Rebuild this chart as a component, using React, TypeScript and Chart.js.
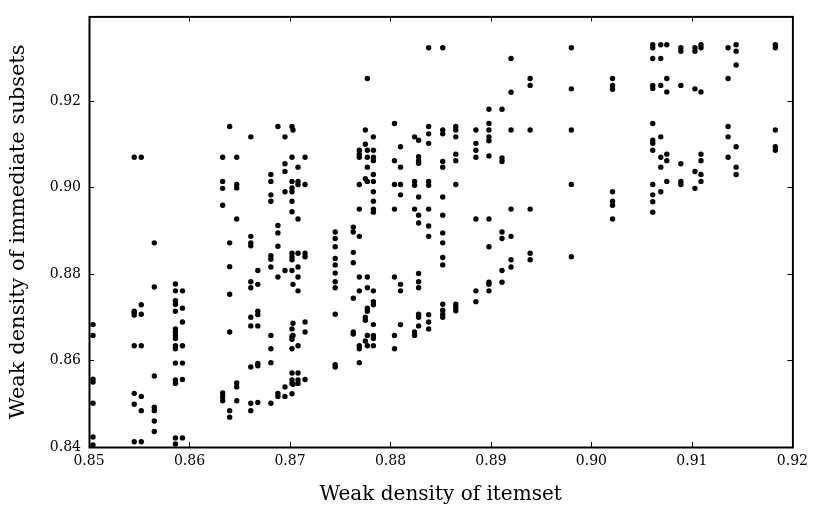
import React, { useEffect, useRef } from 'react';
import { Chart, registerables } from 'chart.js';

Chart.register(...registerables);

const X_TICKS = [0.85, 0.86, 0.87, 0.88, 0.89, 0.9, 0.91, 0.92];
const Y_TICKS = [0.84, 0.86, 0.88, 0.9, 0.92];

// x value of each vertical column of itemsets
const COLUMN_X = [
  0.8504, 0.8545, 0.8552, 0.8565, 0.8586, 0.8593, 0.8633, 0.864, 0.8647, 0.8661,
  0.8668, 0.8681, 0.8688, 0.8695, 0.8702, 0.8703, 0.8708, 0.8715, 0.8745, 0.8763,
  0.8769, 0.8775, 0.8777, 0.8783, 0.8804, 0.881, 0.8824, 0.8828, 0.8838, 0.8852,
  0.8865, 0.8885, 0.8898, 0.8911, 0.892, 0.8939, 0.898, 0.9021, 0.9061, 0.9069,
  0.9075, 0.9089, 0.9103, 0.9109, 0.9136, 0.9144, 0.9183,
];

// y values (weak density of immediate subsets) for each column
const COLUMN_Y: number[][] = [
  [0.8683, 0.8658, 0.8557, 0.855, 0.8501, 0.8423, 0.8405],
  [0.907, 0.8714, 0.8711, 0.8705, 0.8634, 0.8524, 0.8499, 0.8412],
  [0.907, 0.8729, 0.8707, 0.8634, 0.8517, 0.8484, 0.8412],
  [0.8872, 0.877, 0.8564, 0.8492, 0.8484, 0.846, 0.8436],
  [0.8777, 0.8761, 0.8738, 0.873, 0.8714, 0.8673, 0.8666, 0.8658, 0.8651, 0.8634, 0.8627, 0.8594, 0.8555, 0.8547, 0.8421, 0.8407],
  [0.8761, 0.8721, 0.8689, 0.8634, 0.8594, 0.8556, 0.8421],
  [0.907, 0.9014, 0.8998, 0.8959, 0.8525, 0.8516, 0.8507],
  [0.9141, 0.8872, 0.8817, 0.8753, 0.8666, 0.8484, 0.8469],
  [0.907, 0.9007, 0.8999, 0.8927, 0.8548, 0.8539, 0.8507],
  [0.9117, 0.8887, 0.8872, 0.8865, 0.8782, 0.8768, 0.87, 0.868, 0.8585, 0.8501, 0.8484],
  [0.8808, 0.8776, 0.8714, 0.8706, 0.868, 0.8593, 0.8588, 0.8503],
  [0.903, 0.9014, 0.8983, 0.8968, 0.8842, 0.8834, 0.8816, 0.8658, 0.8627, 0.8595, 0.8501],
  [0.9141, 0.8912, 0.8895, 0.8864, 0.8793, 0.8524, 0.8517],
  [0.9117, 0.9055, 0.9037, 0.899, 0.8808, 0.8539, 0.8517],
  [0.9141, 0.907, 0.9014, 0.8999, 0.899, 0.8968, 0.8944, 0.8848, 0.884, 0.8833, 0.8808, 0.8673, 0.8656, 0.8649, 0.8627, 0.8571, 0.8555, 0.8547, 0.8523],
  [0.9133, 0.8776, 0.8686, 0.8658, 0.8545],
  [0.9047, 0.9014, 0.9007, 0.8927, 0.8848, 0.8816, 0.8793, 0.8761, 0.8634, 0.8571, 0.8555, 0.8547],
  [0.907, 0.9007, 0.8848, 0.884, 0.8689, 0.8666, 0.8556],
  [0.8897, 0.8882, 0.8863, 0.8836, 0.8821, 0.8802, 0.8782, 0.8768, 0.8707, 0.859, 0.8585],
  [0.8908, 0.8897, 0.885, 0.8826, 0.8744, 0.8666, 0.8661],
  [0.9086, 0.9077, 0.907, 0.9007, 0.895, 0.8887, 0.8793, 0.8761, 0.8634, 0.8627, 0.8595],
  [0.9133, 0.91, 0.902, 0.87, 0.8693, 0.8645],
  [0.9252, 0.9086, 0.907, 0.9047, 0.9014, 0.8793, 0.8768, 0.8721, 0.8714, 0.8658, 0.8634],
  [0.9117, 0.9086, 0.907, 0.9062, 0.903, 0.9014, 0.899, 0.8968, 0.895, 0.8943, 0.8761, 0.8736, 0.8729, 0.8683, 0.8658, 0.8651, 0.8634],
  [0.9148, 0.9062, 0.9007, 0.895, 0.8793, 0.8658, 0.8627],
  [0.9094, 0.9047, 0.9007, 0.8983, 0.8776, 0.8761, 0.8683],
  [0.9117, 0.9014, 0.9005, 0.895, 0.8666, 0.8658],
  [0.9109, 0.9071, 0.9062, 0.9056, 0.8978, 0.8936, 0.8918, 0.8801, 0.8782, 0.8768, 0.8707, 0.87, 0.868],
  [0.9323, 0.9141, 0.9124, 0.9102, 0.9014, 0.9005, 0.895, 0.8911, 0.8887, 0.8706, 0.8689, 0.8673],
  [0.9323, 0.9133, 0.9124, 0.906, 0.9047, 0.8978, 0.8936, 0.8895, 0.8872, 0.8838, 0.8821, 0.873, 0.8716, 0.8707, 0.87],
  [0.9141, 0.9133, 0.9117, 0.9077, 0.9062, 0.9007, 0.873, 0.8723, 0.8715],
  [0.9133, 0.9102, 0.9086, 0.907, 0.8927, 0.8761, 0.8736],
  [0.9181, 0.9148, 0.9133, 0.9117, 0.9108, 0.9073, 0.8927, 0.8863, 0.8781, 0.8776, 0.8761],
  [0.9181, 0.9068, 0.906, 0.8897, 0.8882, 0.8808, 0.8781],
  [0.9298, 0.922, 0.9133, 0.895, 0.8887, 0.8833, 0.8816],
  [0.9252, 0.9236, 0.9133, 0.895, 0.8848, 0.8833],
  [0.9323, 0.9228, 0.9133, 0.9007, 0.884],
  [0.9252, 0.9236, 0.9227, 0.899, 0.8968, 0.8959, 0.8927],
  [0.933, 0.9323, 0.9298, 0.9236, 0.9229, 0.9148, 0.9109, 0.9102, 0.9086, 0.9007, 0.8983, 0.8967, 0.8943],
  [0.933, 0.9298, 0.9236, 0.9117, 0.907, 0.9047, 0.899],
  [0.933, 0.9252, 0.9221, 0.9077, 0.9062, 0.9014],
  [0.9323, 0.9315, 0.9236, 0.9055, 0.9014, 0.9007],
  [0.9323, 0.9315, 0.9228, 0.9037, 0.8998],
  [0.933, 0.9323, 0.9221, 0.9077, 0.9062, 0.903, 0.9014],
  [0.9323, 0.9252, 0.9141, 0.9117, 0.907],
  [0.933, 0.9315, 0.9283, 0.9094, 0.9047, 0.903],
  [0.933, 0.9323, 0.9133, 0.9094, 0.9086],
];

const X_TITLE = 'Weak density of itemset';
const Y_TITLE = 'Weak density of immediate subsets';
const FONT = 'DejaVu Serif';

const framePlugin = {
  id: 'frameTicks',
  afterDraw(chart: any) {
    const { ctx, chartArea } = chart;
    const { left, right, top, bottom } = chartArea;
    const xs = chart.scales.x;
    const ys = chart.scales.y;
    const len = 5;
    ctx.save();
    ctx.strokeStyle = '#000';
    ctx.lineWidth = 1;
    ctx.beginPath();
    for (const v of X_TICKS) {
      const p = Math.round(xs.getPixelForValue(v)) + 0.5;
      ctx.moveTo(p, bottom);
      ctx.lineTo(p, bottom - len);
      ctx.moveTo(p, top);
      ctx.lineTo(p, top + len);
    }
    for (const v of Y_TICKS) {
      const p = Math.round(ys.getPixelForValue(v)) + 0.5;
      ctx.moveTo(left, p);
      ctx.lineTo(left + len, p);
      ctx.moveTo(right, p);
      ctx.lineTo(right - len, p);
    }
    ctx.stroke();
    ctx.lineWidth = 2;
    ctx.strokeRect(left + 0.5, top + 0.5, right - left, bottom - top);
    ctx.restore();
  },
};

export default function App() {
  const ref = useRef<HTMLCanvasElement>(null);
  useEffect(() => {
    const points = COLUMN_X.flatMap((x, i) => COLUMN_Y[i].map((y) => ({ x, y })));
    const chart = new Chart(ref.current as HTMLCanvasElement, {
      type: 'scatter',
      data: {
        datasets: [
          {
            data: points,
            pointRadius: 2.7,
            pointBackgroundColor: '#000',
            pointBorderColor: '#000',
            pointBorderWidth: 0,
            showLine: false,
          },
        ],
      },
      options: {
        animation: false,
        responsive: true,
        maintainAspectRatio: false,
        layout: { padding: { top: 9, right: 18, left: 0, bottom: 0 } },
        plugins: { legend: { display: false }, tooltip: { enabled: false } },
        scales: {
          x: {
            type: 'linear',
            min: 0.85,
            max: 0.92,
            grid: { display: false, drawTicks: false },
            border: { display: false },
            afterBuildTicks: (s: any) => {
              s.ticks = X_TICKS.map((v) => ({ value: v }));
            },
            afterFit: (s: any) => {
              s.height = 68;
            },
            ticks: {
              callback: (v: any) => Number(v).toFixed(2),
              color: '#000',
              font: { family: FONT, size: 14 },
              padding: 6,
              maxRotation: 0,
              autoSkip: false,
            },
            title: {
              display: true,
              text: X_TITLE,
              color: '#000',
              font: { family: FONT, size: 20 },
              padding: { top: 0, bottom: 8 },
            },
          },
          y: {
            type: 'linear',
            min: 0.84,
            max: 0.93955,
            grid: { display: false, drawTicks: false },
            border: { display: false },
            afterBuildTicks: (s: any) => {
              s.ticks = Y_TICKS.map((v) => ({ value: v }));
            },
            afterFit: (s: any) => {
              s.width = 89;
            },
            ticks: {
              callback: (v: any) => Number(v).toFixed(2),
              color: '#000',
              font: { family: FONT, size: 14 },
              padding: 8,
              autoSkip: false,
            },
            title: {
              display: true,
              text: Y_TITLE,
              color: '#000',
              font: { family: FONT, size: 21 },
              padding: { top: 6, bottom: 0 },
            },
          },
        },
      },
      plugins: [framePlugin],
    });
    return () => chart.destroy();
  }, []);
  return (
    <div style={{ position: 'fixed', left: 0, top: 0, width: 814, height: 515, background: '#fff' }}>
      <canvas ref={ref} />
    </div>
  );
}
